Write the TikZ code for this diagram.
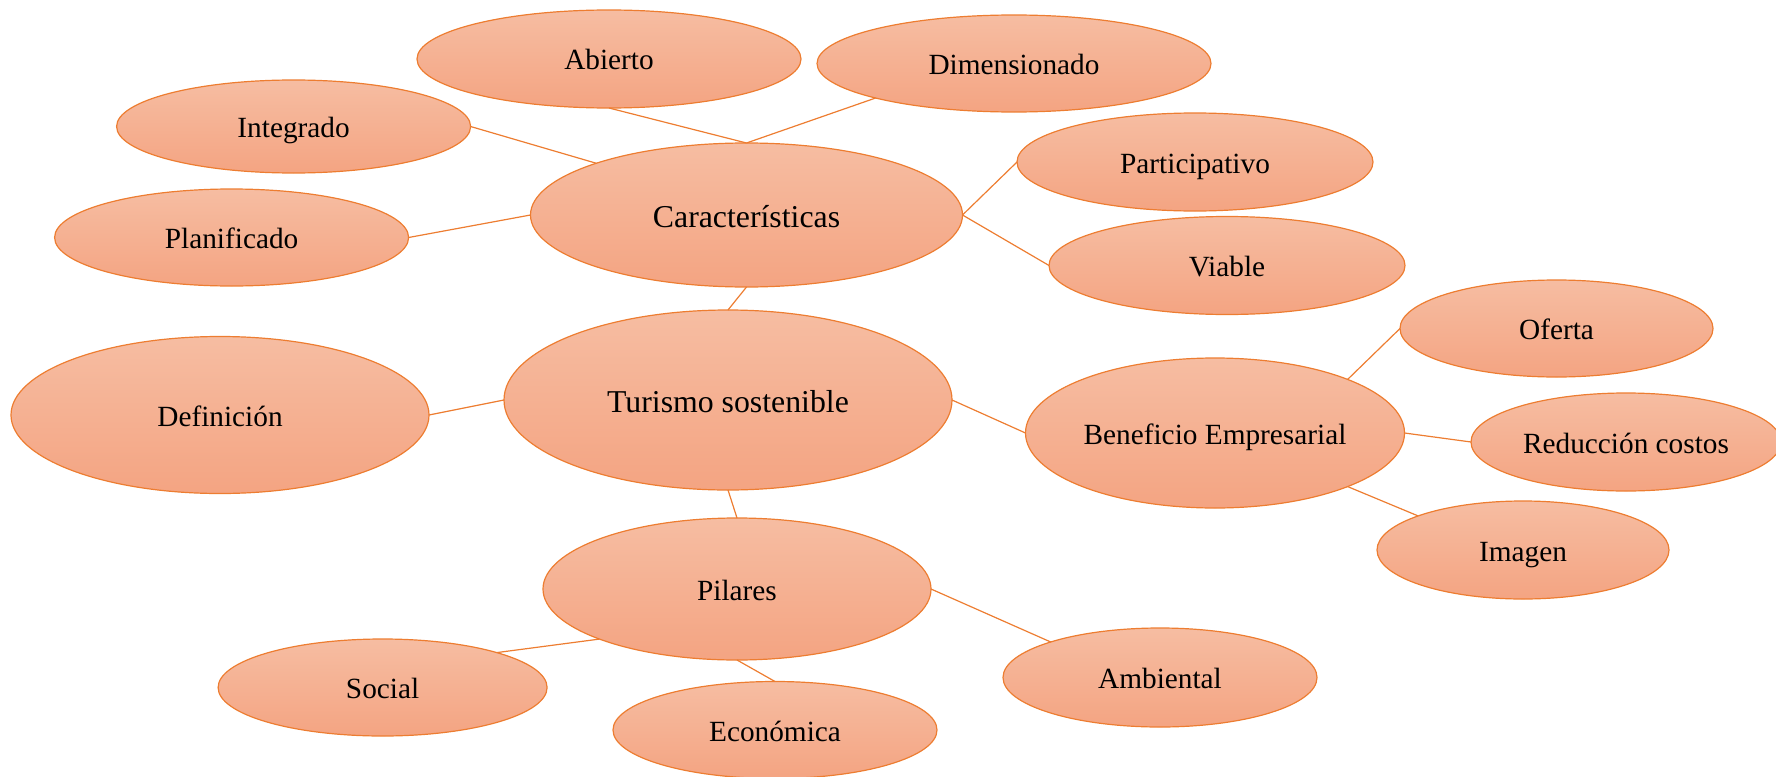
\documentclass[tikz,border=0pt]{standalone}
\usepackage{fontspec}
\setmainfont{Liberation Serif}
\usetikzlibrary{shapes.geometric}
\definecolor{topc}{HTML}{F6BDA2}
\definecolor{botc}{HTML}{F4A482}
\definecolor{edgec}{HTML}{ED7D31}
\tikzset{
  bubble/.style={ellipse, draw=edgec, line width=1.2pt, top color=topc, bottom color=botc,
    inner sep=0pt, outer sep=0pt, text height=22pt, text depth=0pt,
    font=\fontsize{29.3}{34}\selectfont},
  bigbubble/.style={bubble, text height=24pt, font=\fontsize{31.8}{37}\selectfont},
  link/.style={draw=edgec, line width=1.2pt}
}
\newcommand{\bub}[6]{\node[#1, minimum width=#4pt, minimum height=#5pt] (#2) at (#3) {#6};}
\begin{document}
\begin{tikzpicture}[x=1pt,y=-1pt]
\useasboundingbox (0,0) rectangle (1776,776);
% nodes
\bub{bubble}{abi}{609,59}{384}{98}{Abierto}
\bub{bubble}{dim}{1014,63.5}{394}{97}{Dimensionado}
\bub{bubble}{int}{293.6,126.5}{354}{93}{Integrado}
\bub{bubble}{pla}{231.6,237.5}{354}{97}{Planificado}
\bub{bigbubble}{car}{746.5,215}{432}{144}{Características}
\bub{bubble}{par}{1195,162}{356}{98}{Participativo}
\bub{bubble}{via}{1227,265.5}{356}{98}{Viable}
\bub{bigbubble}{tur}{728,400}{448}{180}{Turismo sostenible}
\bub{bubble}{def}{220,415}{418}{157}{Definición}
\bub{bubble}{ben}{1215,433}{379}{150}{Beneficio Empresarial}
\bub{bubble}{ofe}{1556.5,328.5}{313}{97}{Oferta}
\bub{bubble}{red}{1626,442}{310}{98}{Reducción costos}
\bub{bubble}{ima}{1523,550}{292}{98}{Imagen}
\bub{bubble}{pil}{737,589}{388}{142}{Pilares}
\bub{bubble}{soc}{382.6,687.5}{329}{97}{Social}
\bub{bubble}{eco}{775,730}{324}{97}{Económica}
\bub{bubble}{amb}{1160,677.5}{314}{99}{Ambiental}
% connectors
\draw[link] (abi.south) -- (car.north);
\draw[link] (dim.194) -- (car.north);
\draw[link] (int.east) -- (car.161);
\draw[link] (pla.east) -- (car.west);
\draw[link] (car.east) -- (par.west);
\draw[link] (car.east) -- (via.west);
\draw[link] (car.south) -- (tur.north);
\draw[link] (def.east) -- (tur.west);
\draw[link] (tur.south) -- (pil.north);
\draw[link] (tur.east) -- (ben.west);
\draw[link] (ben.22) -- (ofe.west);
\draw[link] (ben.east) -- (red.west);
\draw[link] (ben.-22) -- (ima.162);
\draw[link] (pil.east) -- (amb.162);
\draw[link] (pil.200) -- (soc.17);
\draw[link] (pil.south) -- (eco.north);
\end{tikzpicture}
\end{document}
